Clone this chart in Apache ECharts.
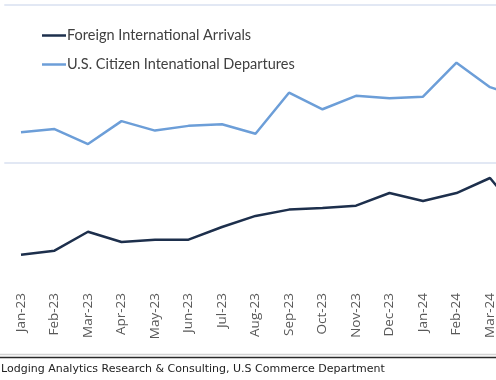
<!DOCTYPE html>
<html><head><meta charset="utf-8">
<script src="https://cdn.jsdelivr.net/npm/echarts@6/dist/echarts.min.js"></script>
<style>html,body{margin:0;padding:0;background:#fff;overflow:hidden;width:496px;height:380px}#c{width:541px;height:380px}</style>
</head><body><div id="c"></div>
<script>
const categories = ['Jan-23','Feb-23','Mar-23','Apr-23','May-23','Jun-23','Jul-23','Aug-23','Sep-23','Oct-23','Nov-23','Dec-23','Jan-24','Feb-24','Mar-24','Apr-24'];
const foreignArrivals = [4.84,4.89,5.13,5.00,5.03,5.03,5.19,5.33,5.41,5.43,5.46,5.62,5.52,5.62,5.81,5.30];
const usDepartures = [6.39,6.43,6.24,6.53,6.41,6.47,6.49,6.37,6.89,6.68,6.85,6.82,6.84,7.27,6.96,6.82];
const seriesNames = ['Foreign International Arrivals','U.S. Citizen Intenational Departures'];
const sourceText = 'Lodging Analytics Research & Consulting, U.S Commerce Department';

const chart = echarts.init(document.getElementById('c'), null, {renderer:'canvas'});
chart.setOption({
  animation:false,
  backgroundColor:'#fff',
  legend:{
    orient:'vertical', left:37, top:23, itemGap:14,
    itemWidth:24, itemHeight:2.5, icon:'rect',
    textStyle:{color:'#404040', fontSize:14.5, fontFamily:'Lato', padding:[0,0,0,-4]},
    data:seriesNames
  },
  grid:{left:4.25, right:0.75, top:5, bottom:59, containLabel:false},
  xAxis:{
    type:'category', data:categories, boundaryGap:true,
    axisLine:{show:false}, axisTick:{show:false},
    axisLabel:{rotate:90, margin:-28, fontSize:13.5, color:'#595959', fontFamily:'Open Sans', interval:0}
  },
  yAxis:{
    type:'value', min:4, max:8, interval:2,
    axisLabel:{show:false}, axisLine:{show:false}, axisTick:{show:false},
    splitLine:{show:true, showMinLine:false, lineStyle:{color:'#d9e0f0', width:1.5}}
  },
  series:[
    {name:seriesNames[0], type:'line', data:foreignArrivals, symbol:'none', lineStyle:{color:'#1d2f4c', width:2.5}, itemStyle:{color:'#1d2f4c'}},
    {name:seriesNames[1], type:'line', data:usDepartures, symbol:'none', lineStyle:{color:'#6c9ed8', width:2.5}, itemStyle:{color:'#6c9ed8'}}
  ],
  graphic:[
    {type:'line', shape:{x1:0,y1:354.5,x2:496,y2:354.5}, style:{stroke:'#d4d4d4', lineWidth:1.5}},
    {type:'line', shape:{x1:0,y1:357.5,x2:496,y2:357.5}, style:{stroke:'#2a2a2a', lineWidth:1.5}},
    {type:'text', left:1, top:364, style:{text:sourceText, fill:'#222', font:'11px "DejaVu Sans"'}}
  ]
});
</script></body></html>
